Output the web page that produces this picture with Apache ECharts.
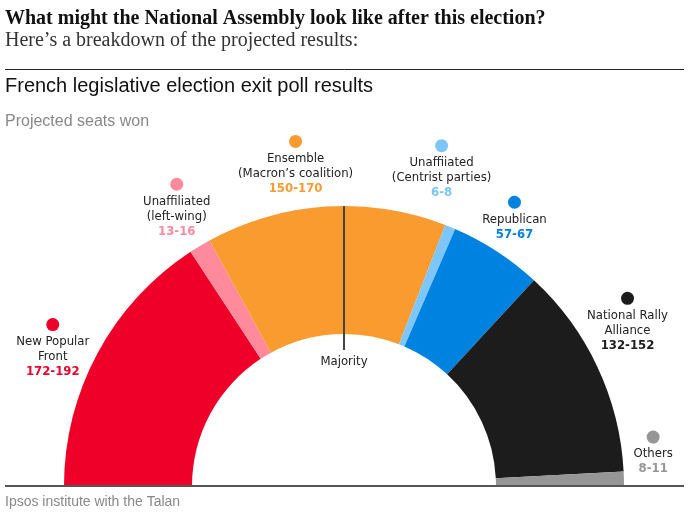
<!DOCTYPE html>
<html>
<head>
<meta charset="utf-8">
<script src="https://cdn.jsdelivr.net/npm/echarts@6/dist/echarts.min.js"></script>
<style>
  html, body { margin: 0; padding: 0; background: #fff; }
  #chart { width: 689px; height: 517px; }
</style>
</head>
<body>
<div id="chart"></div>
<script>
// 党派 / 席位区间
const parties = [
  "New Popular\nFront",
  "Unaffiliated\n(left-wing)",
  "Ensemble\n(Macron\u2019s coalition)",
  "Unaffiiated\n(Centrist parties)",
  "Republican",
  "National Rally\nAlliance",
  "Others"
];
const seatRanges = ["172-192", "13-16", "150-170", "6-8", "57-67", "132-152", "8-11"];
// 扇区大小用区间中点
const seatsMid = [182, 14.5, 160, 7, 62, 142, 9.5];
const colors = ["#ee0029", "#ff8a9b", "#fa9b2f", "#7cc6fb", "#0082e0", "#1c1c1c", "#969696"];

// 布局
const cx = 344, cy = 486;
const rIn = 152, rOut = 280;
// 标签圆点位置（角度, 半径），手动微调
const labelSpots = [[151, 333], [119, 345], [98, 348], [74, 354], [59, 331], [33.5, 340], [9, 313]];

const labelFont = "'Liberation Sans Narrow', 'DejaVu Sans Condensed', 'Roboto', sans-serif";
const serif = "'Liberation Serif', 'DejaVu Serif', serif";
const sans = "'Liberation Sans', sans-serif";

const chart = echarts.init(document.getElementById("chart"));

const rich = {
  name: { fontFamily: labelFont, fontSize: 13, lineHeight: 15, color: "#222", align: "center" }
};
colors.forEach((c, i) => {
  rich["dot" + i] = { width: 13, height: 13, borderRadius: 6.5, backgroundColor: c, lineHeight: 19 };
  rich["val" + i] = { fontFamily: labelFont, fontSize: 13, lineHeight: 15, fontWeight: "bold", color: c, align: "center" };
});

chart.setOption({
  animation: false,
  title: [
    {
      text: "What might the National Assembly look like after this election?",
      left: 5, top: 9, padding: 0,
      textStyle: { fontFamily: serif, fontSize: 20, fontWeight: "bold", color: "#111" }
    },
    {
      text: "Here\u2019s a breakdown of the projected results:",
      left: 5, top: 31, padding: 0,
      textStyle: { fontFamily: serif, fontSize: 20, fontWeight: "normal", color: "#333" }
    },
    {
      text: "French legislative election exit poll results",
      left: 5, top: 76, padding: 0,
      textStyle: { fontFamily: sans, fontSize: 20, fontWeight: "normal", color: "#111" }
    },
    {
      text: "Projected seats won",
      left: 5, top: 114, padding: 0,
      textStyle: { fontFamily: sans, fontSize: 16, fontWeight: "normal", color: "#888" }
    },
    {
      text: "Ipsos institute with the Talan",
      left: 5, top: 495, padding: 0,
      textStyle: { fontFamily: sans, fontSize: 14, fontWeight: "normal", color: "#888" }
    }
  ],
  graphic: [
    { type: "line", shape: { x1: 5, y1: 69.5, x2: 684, y2: 69.5 }, style: { stroke: "#222", lineWidth: 1 } },
    { type: "line", shape: { x1: 5, y1: 486, x2: 684, y2: 486 }, style: { stroke: "#555", lineWidth: 2 }, z: 10 },
    // 过半数线
    { type: "line", shape: { x1: cx, y1: cy - rOut, x2: cx, y2: cy - rIn + 16 }, style: { stroke: "#444", lineWidth: 2 }, z: 10 },
    {
      type: "text", x: cx, y: cy - rIn + 28, z: 10,
      style: { text: "Majority", fontFamily: labelFont, fontSize: 13, fill: "#222", align: "center", verticalAlign: "middle" }
    }
  ],
  series: [
    {
      type: "pie",
      center: [cx, cy],
      radius: [rIn, rOut],
      startAngle: 180,
      endAngle: 0,
      clockwise: true,
      silent: true,
      itemStyle: { borderWidth: 0 },
      labelLine: { show: false },
      label: {
        show: true,
        position: "outside",
        overflow: "none",
        alignTo: "none",
        formatter: (p) => {
          const i = p.dataIndex;
          const nameLines = parties[i].split("\n").map(s => "{name|" + s + "}").join("\n");
          return "{dot" + i + "|}\n" + nameLines + "\n{val" + i + "|" + seatRanges[i] + "}";
        },
        rich: rich
      },
      labelLayout: (params) => {
        const spot = labelSpots[params.dataIndex];
        const a = spot[0] * Math.PI / 180;
        return {
          x: cx + spot[1] * Math.cos(a),
          y: cy - spot[1] * Math.sin(a) - 9.5,
          align: "center",
          verticalAlign: "top",
          hideOverlap: false
        };
      },
      data: seatsMid.map((v, i) => ({
        name: parties[i],
        value: v,
        itemStyle: { color: colors[i] }
      }))
    }
  ]
});
</script>
</body>
</html>
